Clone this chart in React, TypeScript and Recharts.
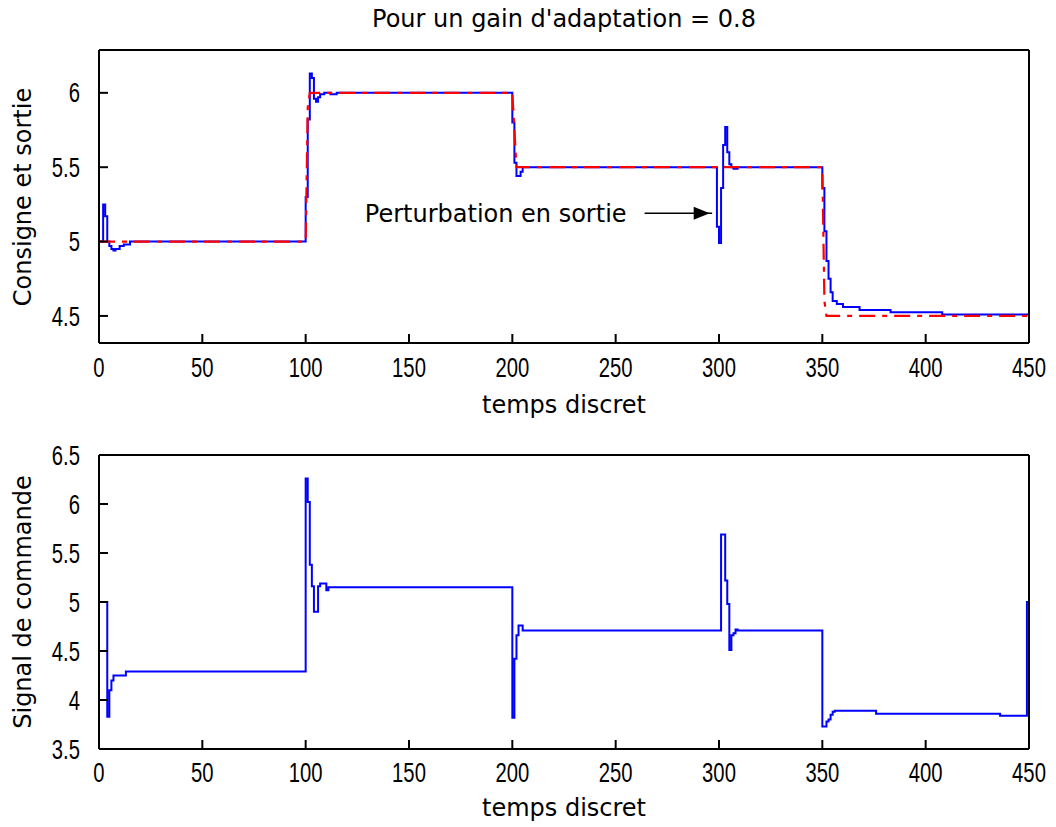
import React from 'react';
import { ComposedChart, Line, XAxis, YAxis, ReferenceLine, ReferenceDot, Scatter } from 'recharts';

// ---- data ----
const titleText = "Pour un gain d'adaptation = 0.8";
const xTicks = [0, 50, 100, 150, 200, 250, 300, 350, 400, 450];
const topYTicks = [4.5, 5, 5.5, 6];
const bottomYTicks = [3.5, 4, 4.5, 5, 5.5, 6, 6.5];

// setpoint (red dash-dot)
const consigneT = [0, 100, 101, 102, 200, 201, 202, 350, 351, 352, 450];
const consigneV = [5, 5, 5.9, 6, 6, 5.75, 5.5, 5.5, 4.6, 4.5, 4.5];

// system output (blue)
const sortieT = [0, 2, 3, 4, 5, 6, 7, 8, 10, 12, 15,
  100, 101, 102, 103, 104, 105, 106, 107, 109, 112, 115,
  200, 201, 202, 204, 205,
  299, 300, 301, 302, 303, 304, 305, 306, 307, 309,
  350, 351, 352, 353, 354, 355, 357, 360, 368, 383, 408, 450];
const sortieV = [5, 5.25, 5.17, 5.0, 4.97, 4.95, 4.94, 4.95, 4.97, 4.98, 5.0,
  5.3, 5.82, 6.13, 6.1, 5.96, 5.94, 5.97, 5.99, 6.0, 5.99, 6.0,
  5.8, 5.53, 5.44, 5.47, 5.5,
  5.1, 4.99, 5.36, 5.65, 5.77, 5.6, 5.52, 5.5, 5.49, 5.5,
  5.36, 5.07, 4.87, 4.75, 4.66, 4.6, 4.58, 4.56, 4.54, 4.525, 4.51, 4.51];

// control signal (blue, bottom)
const commandeT = [0, 4, 5, 6, 7, 13,
  100, 101, 102, 103, 104, 106, 107, 110, 111,
  200, 201, 202, 203, 205,
  301, 303, 304, 305, 306, 307, 308, 309,
  350, 352, 353, 354, 355, 356, 376, 436, 449, 450];
const commandeV = [5, 3.83, 4.1, 4.2, 4.25, 4.29,
  6.26, 6.02, 5.38, 5.16, 4.9, 5.16, 5.19, 5.12, 5.15,
  3.82, 4.42, 4.66, 4.76, 4.71,
  5.69, 5.22, 4.98, 4.51, 4.66, 4.68, 4.72, 4.71,
  3.73, 3.78, 3.8, 3.85, 3.88, 3.89, 3.86, 3.84, 5.0, 5.0];

// annotation
const annotText = 'Perturbation en sortie';
const annotStartT = 264;
const annotTipT = 295.5;
const annotV = 5.19;

const zip = (ts: number[], vs: number[]) => ts.map((t, i) => ({ t, v: vs[i] }));
const consigne = zip(consigneT, consigneV);
const sortie = zip(sortieT, sortieV);
const commande = zip(commandeT, commandeV);
const arrowTip = [{ t: annotTipT, v: annotV }];

const LABEL_FONT = 'DejaVu Sans, sans-serif';
const TICK_FONT = 'Liberation Sans, Arial, sans-serif';

const YTick = (props: any) => {
  const { x, y, payload } = props;
  return (
    <g transform={`translate(${x},${y})`}>
      <text transform="scale(0.75,1)" textAnchor="end" dominantBaseline="central" fontSize={27} fontFamily={TICK_FONT} fill="#000">
        {payload.value}
      </text>
    </g>
  );
};

const XTick = (props: any) => {
  const { x, y, payload } = props;
  return (
    <g transform={`translate(${x},${y})`}>
      <text transform="scale(0.75,1)" textAnchor="middle" dominantBaseline="central" fontSize={27} fontFamily={TICK_FONT} fill="#000">
        {payload.value}
      </text>
    </g>
  );
};

const axisProps = {
  stroke: '#000',
  strokeWidth: 2,
  tickSize: -9,
  tickLine: { stroke: '#000', strokeWidth: 2 },
  axisLine: { stroke: '#000', strokeWidth: 2 },
};

const Arrowhead = (props: any) => {
  const { cx, cy } = props;
  return <polygon points={`${cx},${cy} ${cx - 16},${cy - 6.5} ${cx - 16},${cy + 6.5}`} fill="#000" />;
};

const Label = ({ text, x, y, rotate }: { text: string; x: number; y: number; rotate?: boolean }) => (
  <div
    style={{
      position: 'absolute',
      left: x,
      top: y,
      transform: `translate(-50%,-50%)${rotate ? ' rotate(-90deg)' : ''}`,
      fontFamily: LABEL_FONT,
      fontSize: 24,
      lineHeight: 1,
      whiteSpace: 'nowrap',
      color: '#000',
    }}
  >
    {text}
  </div>
);

export default function App() {
  return (
    <div style={{ position: 'absolute', left: 0, top: 0, width: 1056, height: 827, background: '#fff', overflow: 'hidden' }}>
      <Label text={titleText} x={564} y={19} />
      <Label text="Consigne et sortie" x={23} y={197} rotate />
      <Label text="temps discret" x={564} y={405} />
      <Label text="Signal de commande" x={23} y={602} rotate />
      <Label text="temps discret" x={564} y={808} />

      <div style={{ position: 'absolute', left: 0, top: 0 }}>
        <ComposedChart width={1056} height={400} margin={{ top: 40, right: 17, bottom: 17, left: 39 }}>
          <XAxis dataKey="t" type="number" domain={[0, 450]} ticks={xTicks} allowDataOverflow height={40} tickMargin={33} tick={<XTick />} {...axisProps} />
          <XAxis xAxisId="top" orientation="top" dataKey="t" type="number" domain={[0, 450]} ticks={xTicks} allowDataOverflow height={10} tick={false} {...axisProps} />
          <YAxis type="number" domain={[4.318, 6.288]} ticks={topYTicks} allowDataOverflow width={60} tickMargin={28} tick={<YTick />} {...axisProps} />
          <YAxis yAxisId="r" orientation="right" type="number" domain={[4.318, 6.288]} ticks={topYTicks} allowDataOverflow width={10} tick={false} {...axisProps} />
          <Line data={sortie} dataKey="v" type="stepAfter" stroke="#0000ff" strokeWidth={2} dot={false} isAnimationActive={false} />
          <Line data={consigne} dataKey="v" type="linear" stroke="#ff0000" strokeWidth={2.2} strokeDasharray="16 7 5 7" dot={false} isAnimationActive={false} />
          <ReferenceLine segment={[{ x: annotStartT, y: annotV }, { x: annotTipT + 1.2, y: annotV }]} stroke="#000" strokeWidth={1.6} />
          <Scatter data={arrowTip} dataKey="v" shape={<Arrowhead />} isAnimationActive={false} />
          <ReferenceDot x={annotStartT} y={annotV} r={0} stroke="none" fill="none"
            label={{ value: annotText, position: 'left', offset: 18, fill: '#000', fontSize: 24, fontFamily: LABEL_FONT }} />
        </ComposedChart>
      </div>

      <div style={{ position: 'absolute', left: 0, top: 405 }}>
        <ComposedChart width={1056} height={422} margin={{ top: 40, right: 17, bottom: 38, left: 39 }}>
          <XAxis dataKey="t" type="number" domain={[0, 450]} ticks={xTicks} allowDataOverflow height={40} tickMargin={32} tick={<XTick />} {...axisProps} />
          <XAxis xAxisId="top" orientation="top" dataKey="t" type="number" domain={[0, 450]} ticks={xTicks} allowDataOverflow height={10} tick={false} {...axisProps} />
          <YAxis type="number" domain={[3.5, 6.5]} ticks={bottomYTicks} allowDataOverflow width={60} tickMargin={28} tick={<YTick />} {...axisProps} />
          <YAxis yAxisId="r" orientation="right" type="number" domain={[3.5, 6.5]} ticks={bottomYTicks} allowDataOverflow width={10} tick={false} {...axisProps} />
          <Line data={commande} dataKey="v" type="stepAfter" stroke="#0000ff" strokeWidth={2} dot={false} isAnimationActive={false} />
        </ComposedChart>
      </div>
    </div>
  );
}
